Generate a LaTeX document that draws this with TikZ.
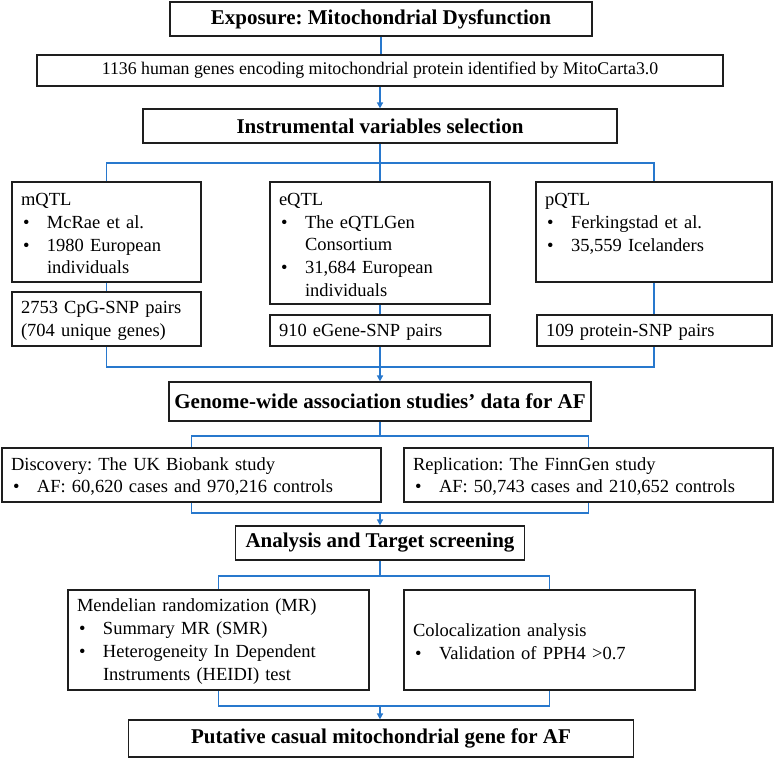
\documentclass[tikz,border=0pt]{standalone}
\usepackage{fontspec}
\setmainfont{Liberation Serif}
\usetikzlibrary{arrows.meta}
\setlength{\parindent}{0pt}
\frenchspacing
\definecolor{linkblue}{RGB}{40,120,205}
\definecolor{boxline}{RGB}{30,30,30}
\newcommand{\reg}{\fontsize{18.5pt}{22.7pt}\selectfont\frenchspacing}
\newcommand{\bld}{\fontsize{21pt}{25pt}\selectfont\bfseries\frenchspacing}
\newcommand{\itm}[1]{\par\hangindent=26pt\hangafter=1\noindent\makebox[26pt][l]{\hspace{2pt}\textbullet}#1\par}
\newcommand{\tp}{\rule{0pt}{16pt}}
\tikzset{
  box/.style={draw=boxline, line width=1.2pt, inner sep=0pt, font=\reg, align=center},
  tbox/.style={box, font=\bld},
  lbox/.style={draw=boxline, line width=1.2pt, inner ysep=0pt, inner xsep=9pt, font=\reg, align=left},
  conn/.style={draw=linkblue, line width=1.6pt},
  arr/.style={conn, -{Triangle[length=6pt,width=6pt]}}
}
\begin{document}
\begin{tikzpicture}[x=1pt,y=-1pt]
\useasboundingbox (0,0) rectangle (775,758);
% nodes
\node[tbox, minimum width=422pt, minimum height=34pt] (exp) at (381,19) {Exposure: Mitochondrial Dysfunction};
\node[box, minimum width=686pt, minimum height=31pt, font=\fontsize{17.8pt}{21pt}\selectfont] (mito) at (380,70.5) {1136 human genes encoding mitochondrial protein identified by MitoCarta3.0};
\node[tbox, minimum width=474pt, minimum height=34pt] (inst) at (380,126) {Instrumental variables selection};
\node[lbox, text width=171pt, minimum height=100pt] (mq) at (106.5,232) {\tp mQTL\itm{McRae et al.}\itm{1980 European\break individuals}};
\node[lbox, text width=202pt, minimum height=122pt] (eq) at (380,243) {\tp eQTL\itm{The eQTLGen\break Consortium}\itm{31,684 European\break individuals}};
\node[lbox, text width=218pt, minimum height=100pt] (pq) at (654,232) {\tp pQTL\itm{Ferkingstad et al.}\itm{35,559 Icelanders}\mbox{}};
\node[lbox, text width=171pt, minimum height=54pt] (cp) at (106.5,319) {\tp 2753 CpG-SNP pairs\break (704 unique genes)};
\node[lbox, text width=202pt, minimum height=31pt] (eg) at (380,330.5) {\tp 910 eGene-SNP pairs};
\node[lbox, text width=217pt, minimum height=31pt] (pr) at (654.5,330.5) {\tp 109 protein-SNP pairs};
\node[tbox, minimum width=422pt, minimum height=39pt] (gw) at (380,401.5) {Genome-wide association studies’ data for AF};
\node[lbox, text width=361pt, minimum height=54pt] (ds) at (191.5,475) {\tp Discovery: The UK Biobank study\itm{AF: 60,620 cases and 970,216 controls}};
\node[lbox, text width=351pt, minimum height=54pt] (rp) at (588.5,475) {\tp Replication: The FinnGen study\itm{AF: 50,743 cases and 210,652 controls}};
\node[tbox, minimum width=289pt, minimum height=34pt] (an) at (380,543) {Analysis and Target screening};
\node[lbox, text width=283pt, minimum height=100pt] (mr) at (218.5,640) {\tp Mendelian randomization (MR)\itm{Summary MR (SMR)}\itm{Heterogeneity In Dependent\break Instruments (HEIDI) test}};
\node[lbox, text width=273pt, minimum height=100pt] (co) at (549.5,640) {\tp Colocalization analysis\itm{Validation of PPH4 >0.7}};
\node[tbox, minimum width=505pt, minimum height=37pt] (pt) at (381,738.5) {Putative casual mitochondrial gene for AF};
% bus levels
\coordinate (b1) at (0,163);
\coordinate (b2) at (0,367);
\coordinate (b3) at (0,436);
\coordinate (b4) at (0,513);
\coordinate (b5) at (0,576);
\coordinate (b6) at (0,706);
% connectors
\draw[conn] (exp.south) -- (exp.south |- mito.north);
\draw[arr] (mito.south) -- (mito.south |- inst.north);
\draw[conn] (inst.south) -- (inst.south |- b1);
\draw[conn] (mq.north) -- (mq.north |- b1) -- (pq.north |- b1) -- (pq.north);
\draw[conn] (inst.south |- b1) -- (inst.south |- eq.north);
\draw[conn] (mq.south) -- (cp.north);
\draw[conn] (eq.south) -- (eg.north);
\draw[conn] (pq.south) -- (pq.south |- pr.north);
\draw[conn] (cp.south) -- (cp.south |- b2) -- (pq.south |- b2) -- (pq.south |- pr.south);
\draw[conn] (eg.south) -- (eg.south |- b2);
\draw[arr] (eg.south |- b2) -- (eg.south |- gw.north);
\draw[conn] (gw.south) -- (gw.south |- b3);
\draw[conn] (ds.north) -- (ds.north |- b3) -- (rp.north |- b3) -- (rp.north);
\draw[conn] (ds.south) -- (ds.south |- b4) -- (rp.south |- b4) -- (rp.south);
\draw[arr] (an.north |- b4) -- (an.north);
\draw[conn] (an.south) -- (an.south |- b5);
\draw[conn] (mr.north) -- (mr.north |- b5) -- (co.north |- b5) -- (co.north);
\draw[conn] (mr.south) -- (mr.south |- b6) -- (co.south |- b6) -- (co.south);
\draw[arr] (an.south |- b6) -- (an.south |- pt.north);
\end{tikzpicture}
\end{document}
